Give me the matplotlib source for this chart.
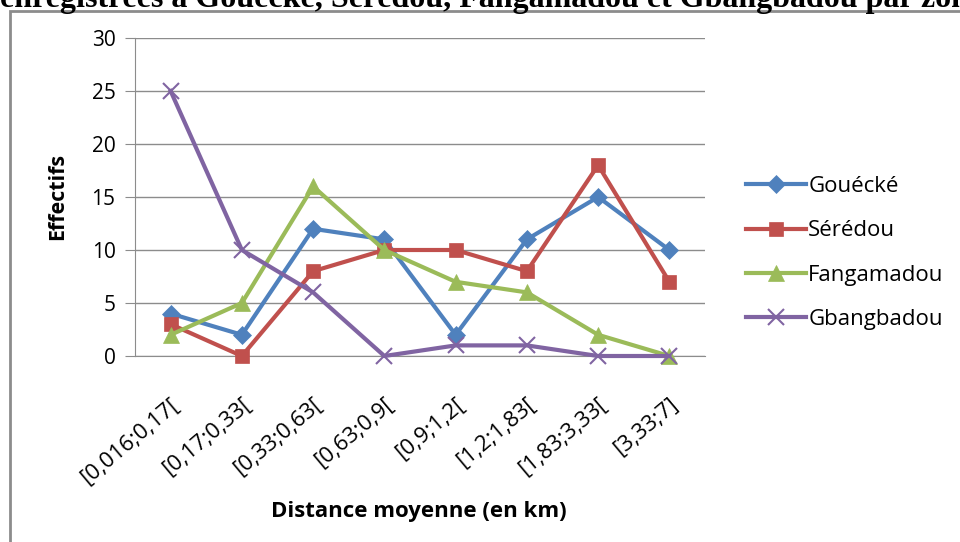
import matplotlib.pyplot as plt
import matplotlib.transforms as mtransforms
import numpy as np
from matplotlib.patches import Rectangle

plt.rcParams['font.family'] = ['Open Sans', 'DejaVu Sans']

categories = ["[0,016;0,17[", "[0,17;0,33[", "[0,33;0,63[", "[0,63;0,9[",
              "[0,9;1,2[", "[1,2;1,83[", "[1,83;3,33[", "[3,33;7]"]
gouecke = [4, 2, 12, 11, 2, 11, 15, 10]
seredou = [3, 0, 8, 10, 10, 8, 18, 7]
fangamadou = [2, 5, 16, 10, 7, 6, 2, 0]
gbangbadou = [25, 10, 6, 0, 1, 1, 0, 0]

series = [
    ("Gouécké", gouecke, "#4F81BD", "D", 9.5),
    ("Sérédou", seredou, "#C0504D", "s", 10),
    ("Fangamadou", fangamadou, "#9BBB59", "^", 11),
    ("Gbangbadou", gbangbadou, "#8064A2", "x", 11),
]

fig = plt.figure(figsize=(9.6, 5.42), dpi=100)

# caption of the page, cut by the screenshot
fig.text(0.0, 1 - 7/542, "enregistrées à Gouécké, Sérédou, Fangamadou et Gbangbadou par zone",
         family="Liberation Serif", weight="bold", fontsize=23, va="baseline", ha="left")

# chart border
fig.patches.append(Rectangle((10/960, -0.1), 1.1, 1 - 11/542 + 0.1, transform=fig.transFigure,
                             fill=False, edgecolor="#8c8c8c", linewidth=2, zorder=0))

ax = fig.add_axes([135/960, 1 - 356/542, 570/960, 318/542])
x = np.arange(len(categories))
for name, vals, col, mk, ms in series:
    ax.plot(x, vals, color=col, linewidth=3, marker=mk, markersize=ms,
            markeredgewidth=1.5 if mk == "x" else 0.5, markeredgecolor=col,
            label=name, clip_on=False, zorder=3)

ax.set_xlim(-0.5, len(categories) - 0.5)
ax.set_ylim(0, 30)
ax.set_yticks(np.arange(0, 31, 5))
ax.yaxis.grid(True, color="#8c8c8c", linewidth=1)
ax.set_axisbelow(True)
for s in ["top", "right"]:
    ax.spines[s].set_visible(False)
for s in ["left", "bottom"]:
    ax.spines[s].set_color("#8c8c8c")
ax.tick_params(axis="y", length=7, color="#8c8c8c", labelsize=15, pad=7)
ax.tick_params(axis="x", length=0, labelsize=16, pad=33)
ax.set_xticks(x)
ax.set_xticklabels(categories, rotation=40, ha="right", va="center", rotation_mode="anchor")
shift = mtransforms.ScaledTranslation(6/100, 0, fig.dpi_scale_trans)
for lab in ax.get_xticklabels():
    lab.set_transform(lab.get_transform() + shift)

fig.text(419/960, 1 - 511/542, "Distance moyenne (en km)", ha="center", va="center",
         fontsize=16, weight="bold")
fig.text(58/960, 1 - 196/542, "Effectifs", ha="center", va="center",
         fontsize=15.5, weight="bold", rotation=90)

ax.legend(loc="center left", bbox_to_anchor=(726/960, 1 - 253/542), bbox_transform=fig.transFigure,
          frameon=False, fontsize=16, handlelength=2.7, handletextpad=0.1, labelspacing=1.05)

fig.savefig("out.png", dpi=100)
